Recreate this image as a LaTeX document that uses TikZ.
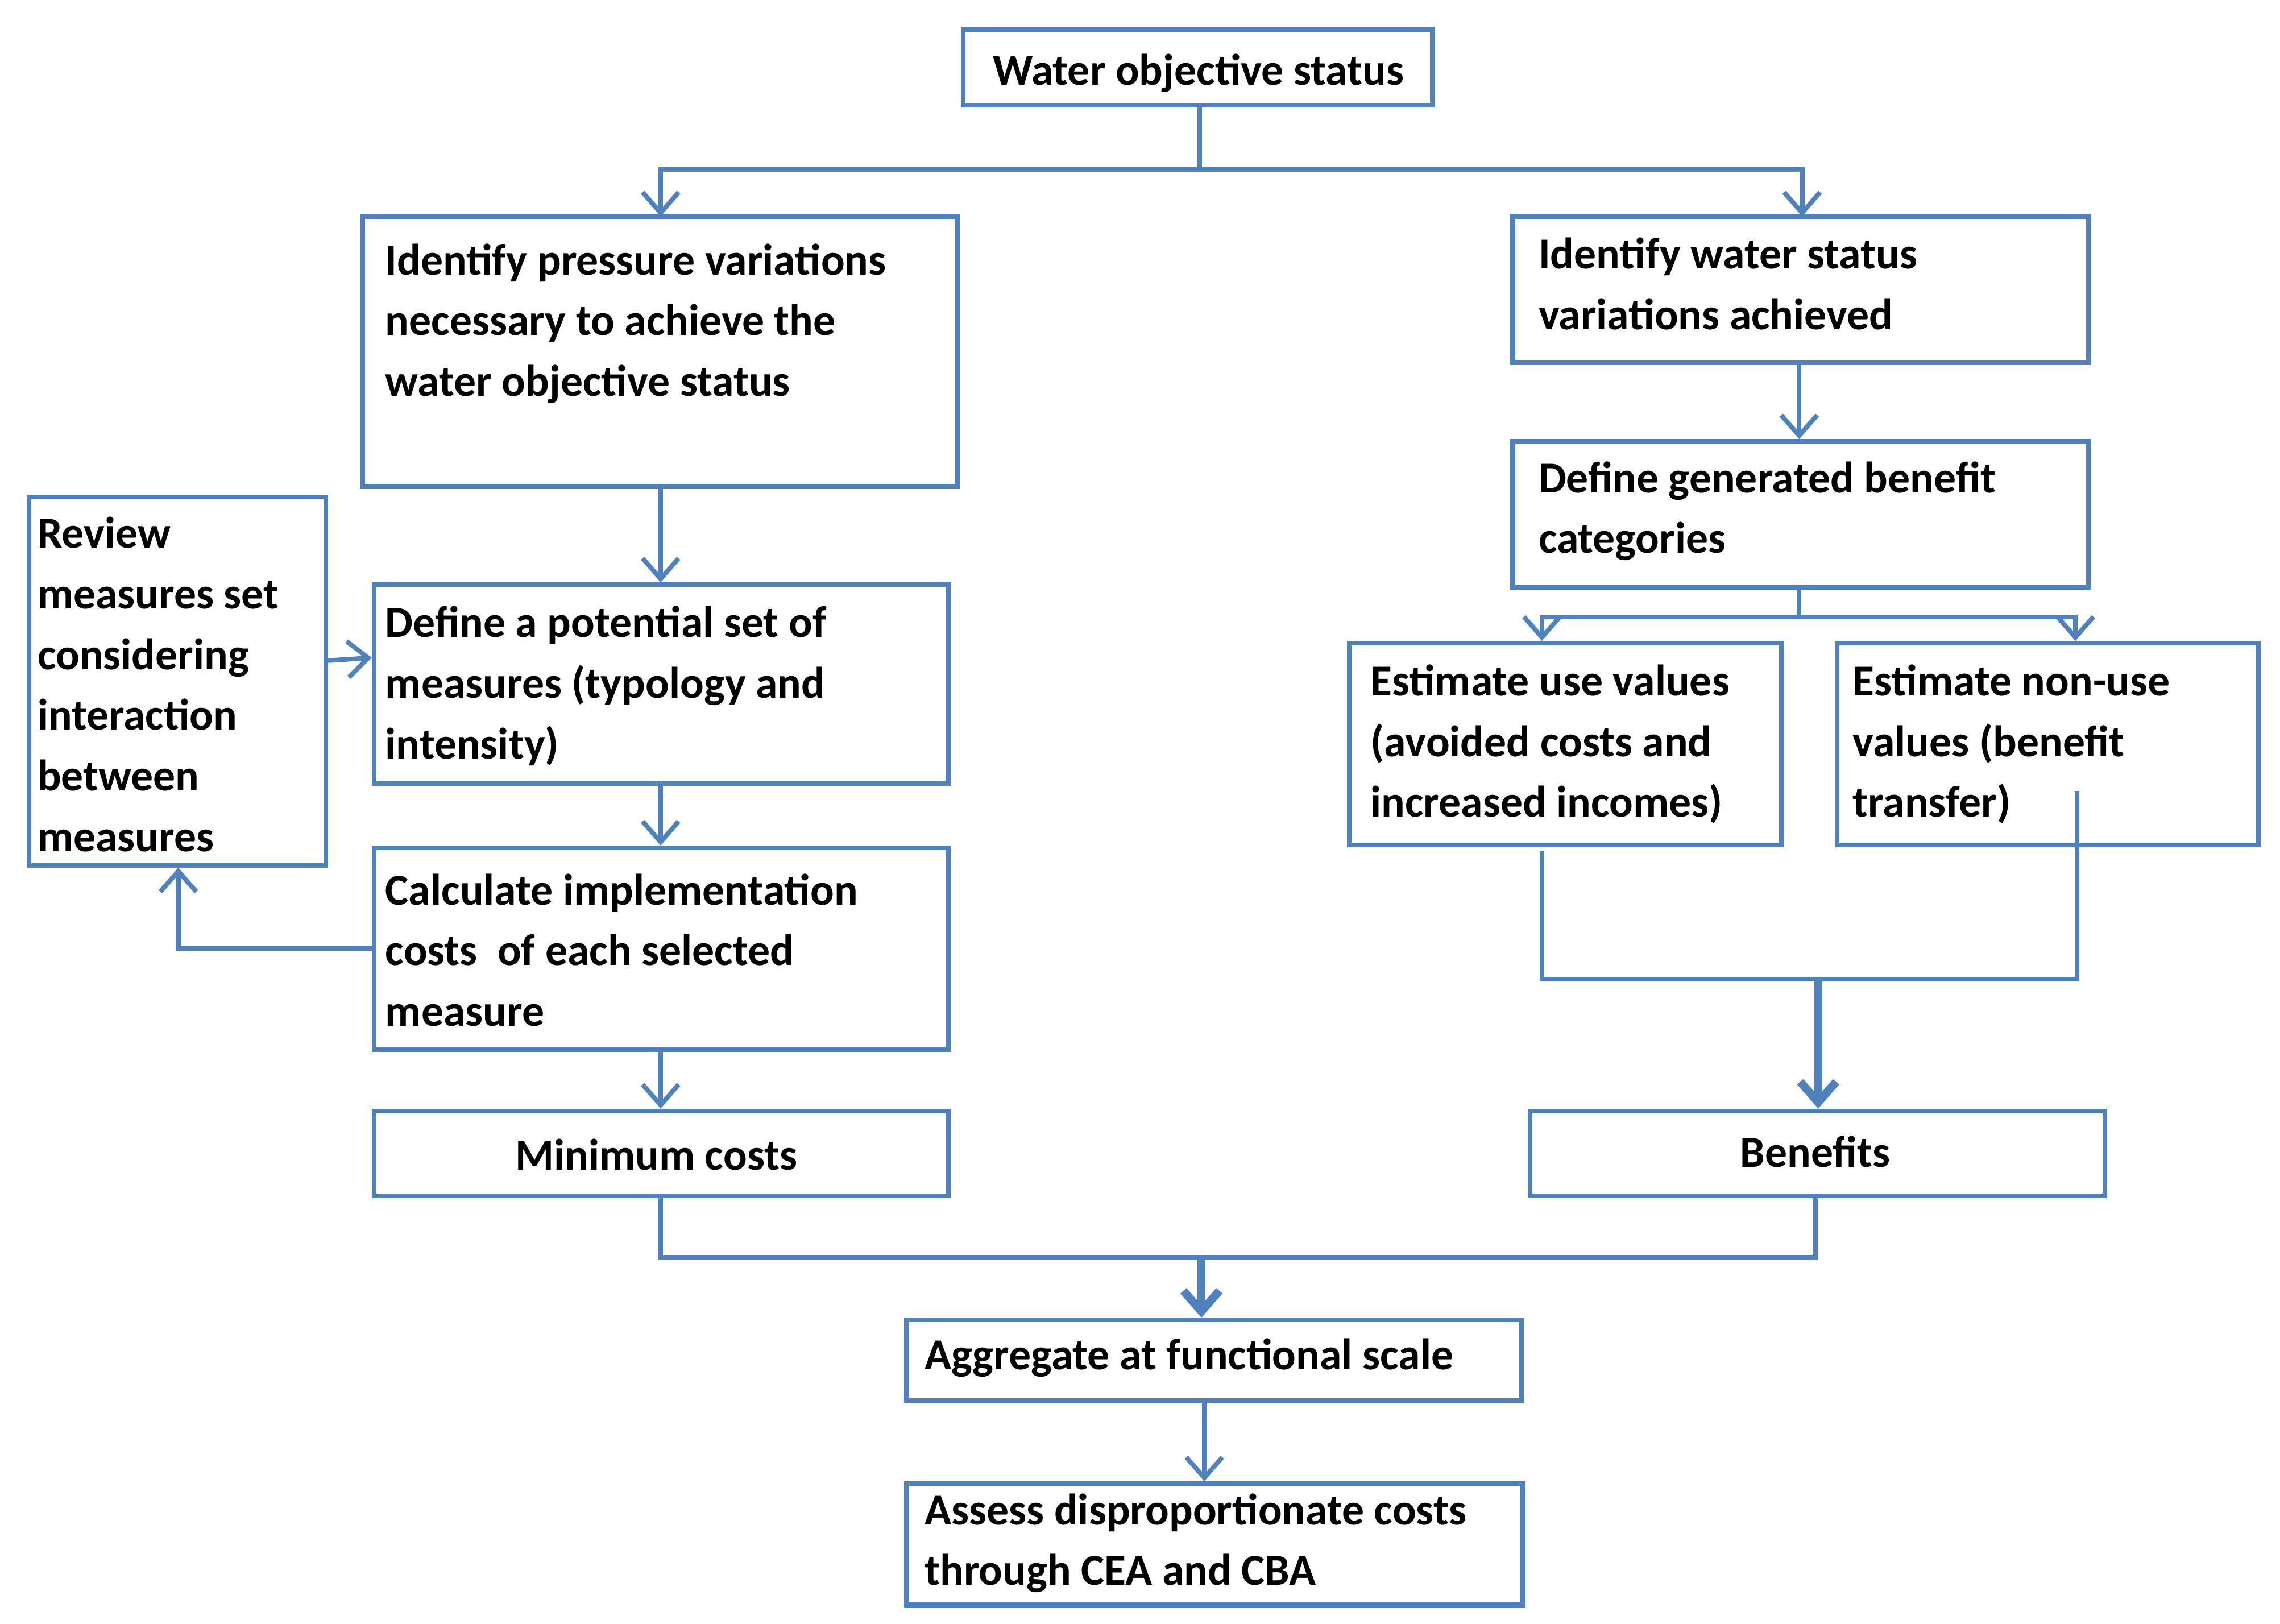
\documentclass[tikz,border=0pt]{standalone}
\usepackage{fontspec}
\setmainfont{Carlito}
\usetikzlibrary{fit,arrows.meta}
\definecolor{bl}{RGB}{79,129,189}
\begin{document}
\begin{tikzpicture}[x=0.01cm,y=-0.01cm,
  box/.style={draw=bl,line width=0.9pt,inner sep=0pt,fit={#1}},
  txt/.style={font=\bfseries\fontsize{8.6}{11.8}\selectfont,inner sep=0pt,align=left,anchor=north west},
  ctx/.style={font=\bfseries\fontsize{8.6}{11.8}\selectfont,inner sep=0pt},
  ln/.style={draw=bl,line width=0.9pt},
  ar/.style={ln,-{Straight Barb[length=4pt,width=7pt]}},
  tar/.style={draw=bl,line width=1.6pt,-{Straight Barb[length=4pt,width=7pt]}}]
\useasboundingbox (0,0) rectangle (1560,1111);
\node[box={(659,20) (980,72)}] (top) {};
\node[ctx] (ttop) at (820,50) {Water objective status};
\node[box={(248,148) (655,333)}] (l1) {};
\node[txt] (tl1) at (263,166) {Identify pressure variations\\necessary to achieve the\\water objective status};
\node[box={(1035,148) (1429,248)}] (r1) {};
\node[txt] (tr1) at (1052,162) {Identify water status\\variations achieved};
\node[box={(1035,302) (1429,402)}] (r2) {};
\node[txt] (tr2) at (1052,315) {Define generated benefit\\categories};
\node[box={(20,340) (223,592)}] (rev) {};
\node[txt] (trev) at (25,353) {Review\\measures set\\considering\\interaction\\between\\measures};
\node[box={(256,400) (649,536)}] (def) {};
\node[txt] (tdef) at (263,414) {Define a potential set of\\measures (typology and\\intensity)};
\node[box={(256,580) (649,718)}] (calc) {};
\node[txt] (tcalc) at (263,597) {Calculate implementation\\costs\ \ of each selected\\measure};
\node[box={(256,760) (649,818)}] (min) {};
\node[ctx] (tmin) at (449,790) {Minimum costs};
\node[box={(923,440) (1219,578)}] (use) {};
\node[txt] (tuse) at (937,454) {Estimate use values\\(avoided costs and\\increased incomes)};
\node[box={(1257,440) (1545,578)}] (non) {};
\node[txt] (tnon) at (1267,454) {Estimate non-use\\values (benefit\\transfer)};
\node[box={(1047,760) (1440,818)}] (ben) {};
\node[ctx] (tben) at (1242,788) {Benefits};
\node[box={(620,903) (1041,958)}] (agg) {};
\node[txt] (tagg) at (632,915) {Aggregate at functional scale};
\node[box={(620,1015) (1042,1098)}] (ass) {};
\node[txt] (tass) at (632,1021) {Assess disproportionate costs\\through CEA and CBA};
% connectors
\coordinate (j1) at (821,116);
\draw[ln] (top.south -| j1) -- (j1);
\draw[ar] (j1) -| (452,148);
\draw[ar] (j1) -| (1233,148);
\draw[ar] (l1.south -| 452,0) -- (def.north -| 452,0);
\draw[ar] (def.south -| 452,0) -- (calc.north -| 452,0);
\draw[ar] (calc.south -| 452,0) -- (min.north -| 452,0);
\draw[ar] (223,452) -- (def.west |- 0,450);
\draw[ar] (calc.west |- 0,649) -| (rev.south -| 122,0);
\draw[ar] (r1.south -| 1231,0) -- (r2.north -| 1231,0);
\coordinate (j2) at (1231,422);
\draw[ln] (r2.south -| j2) -- (j2);
\draw[ar] (j2) -| (use.north -| 1055,0);
\draw[ar] (j2) -| (non.north -| 1420,0);
\coordinate (u1) at (1055,582);
\coordinate (n1) at (1421,541);
\draw[ln] (u1) |- (1421,670) -- (n1);
\draw[tar] (1244,670) -- (ben.north -| 1244,0);
\coordinate (j3) at (822,860);
\draw[ln] (min.south -| 452,0) |- (1242,860) -- (ben.south -| 1242,0);
\draw[tar] (j3) -- (agg.north -| j3);
\draw[ar] (agg.south -| 824,0) -- (ass.north -| 824,0);
\end{tikzpicture}
\end{document}
